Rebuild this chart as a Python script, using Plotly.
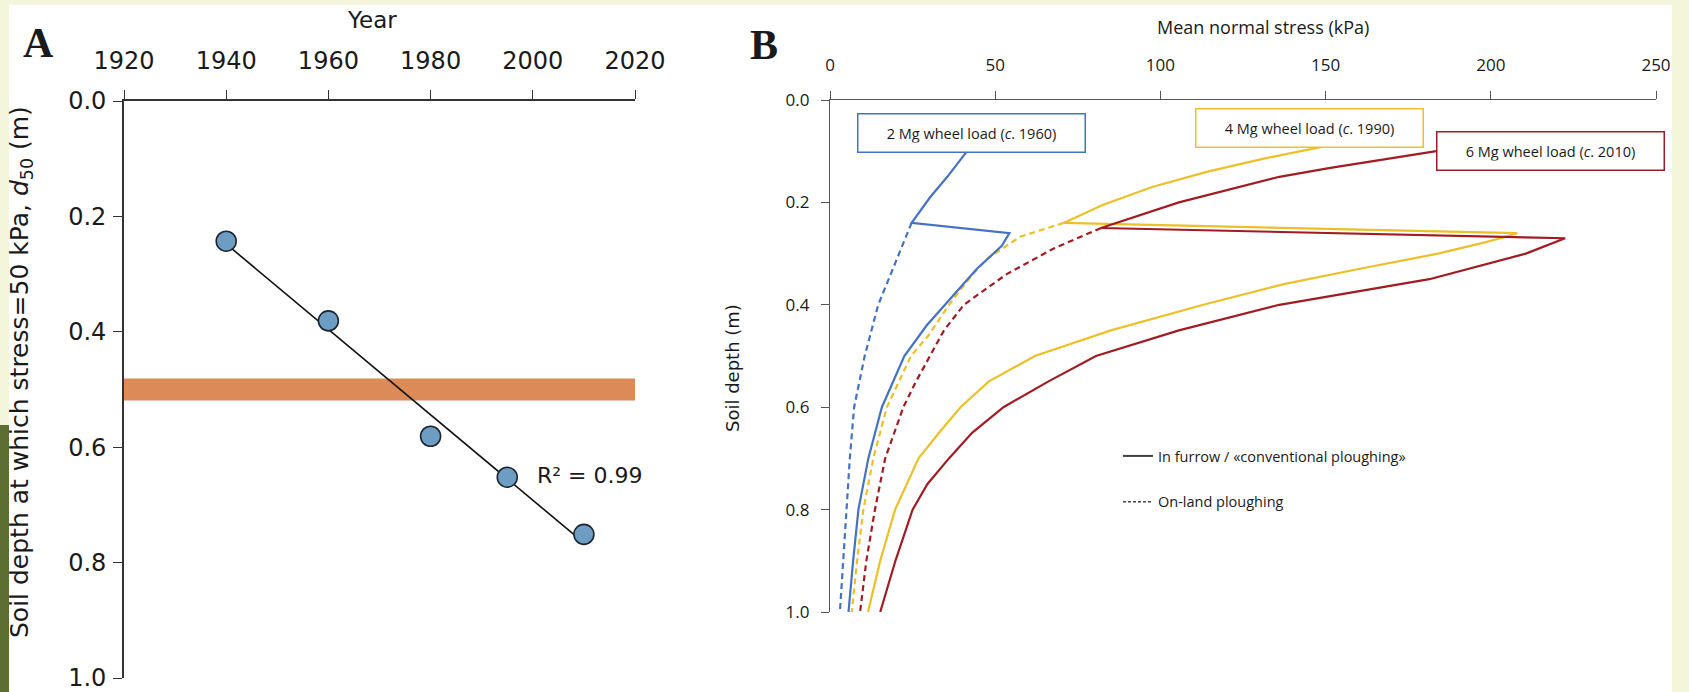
import numpy as np
import plotly.graph_objects as go

W, H = 1689, 692

# ---------------- Panel A data ----------------
years = [1940, 1960, 1980, 1995, 2010]
d50 = [0.243, 0.381, 0.581, 0.652, 0.751]
band_depth = [0.481, 0.519]          # orange reference band
band_years = [1920, 2020]
r2_text = "R² = 0.99"

# ---------------- Panel B data ----------------
# 2 Mg wheel load (c. 1960)
d2_furrow = [0.10, 0.15, 0.19, 0.24, 0.26, 0.285, 0.33, 0.38, 0.44, 0.50, 0.60, 0.70, 0.80, 0.90, 1.00]
s2_furrow = [41.5, 35.5, 30.3, 24.7, 54.3, 52.0, 44.4, 37.4, 29.3, 22.5, 15.7, 11.6, 8.6, 7.0, 5.6]
d2_onland = [0.24, 0.32, 0.40, 0.50, 0.60, 0.70, 0.80, 0.90, 1.00]
s2_onland = [24.7, 19.7, 14.6, 10.5, 7.3, 6.0, 5.0, 4.0, 3.0]
# 4 Mg wheel load (c. 1990)
d4_furrow = [0.09, 0.114, 0.14, 0.17, 0.205, 0.24, 0.26, 0.27, 0.28, 0.30, 0.33, 0.36, 0.40, 0.45, 0.50, 0.55, 0.60, 0.65, 0.70, 0.80, 0.90, 1.00]
s4_furrow = [150, 131.6, 114.3, 97.5, 82.5, 70.7, 208, 203, 197, 184, 160, 137, 113, 85, 62, 48, 39.5, 33, 26.8, 19.7, 15.2, 11.5]
d4_onland = [0.24, 0.267, 0.31, 0.35, 0.40, 0.46, 0.50, 0.60, 0.70, 0.80, 0.90, 1.00]
s4_onland = [70.7, 57.6, 47.5, 42.0, 36.0, 29.8, 24.5, 17.2, 13.1, 10.1, 8.2, 6.6]
# 6 Mg wheel load (c. 2010)
d6_furrow = [0.10, 0.133, 0.15, 0.20, 0.25, 0.27, 0.30, 0.35, 0.40, 0.45, 0.50, 0.55, 0.60, 0.65, 0.70, 0.75, 0.80, 0.90, 1.00]
s6_furrow = [183.5, 151, 136, 105.6, 82, 222.5, 210.6, 181.4, 136, 105.6, 80.5, 66, 52.5, 43, 36, 29.5, 25, 19.8, 15.2]
d6_onland = [0.25, 0.29, 0.34, 0.40, 0.45, 0.50, 0.55, 0.60, 0.70, 0.80, 0.90, 1.00]
s6_onland = [82, 67.7, 53.5, 40.5, 34.5, 30.2, 26.0, 22.2, 16.7, 13.6, 11.0, 9.1]

load_labels = ["2 Mg wheel load (<i>c</i>. 1960)",
               "4 Mg wheel load (<i>c</i>. 1990)",
               "6 Mg wheel load (<i>c</i>. 2010)"]
legend_names = ["In furrow / «conventional ploughing»", "On-land ploughing"]

BLUE = "#4472C4"
GOLD = "#EDBF28"
RED = "#A11C22"
CREAM = "#F4F6DC"
GREEN = "#5D6E33"

# ---------------- helpers ----------------
def px_x(p):
    return p / W

def px_y(p):
    return 1 - p / H

fig = go.Figure()

# Panel A
slope, icpt = np.polyfit(years, d50, 1)
fit_x = [years[0], years[-1]]
fit_y = [slope * v + icpt for v in fit_x]
fig.add_trace(go.Scatter(x=fit_x, y=fit_y, mode="lines", line=dict(color="#111", width=1.6),
                         showlegend=False, xaxis="x", yaxis="y", hoverinfo="skip"))
fig.add_trace(go.Scatter(x=years, y=d50, mode="markers",
                         marker=dict(size=20, color="#6E9DC3", line=dict(color="#1d2630", width=1.6)),
                         showlegend=False, xaxis="x", yaxis="y"))

# Panel B
def add_curve(s, d, color, dash):
    fig.add_trace(go.Scatter(x=s, y=d, mode="lines",
                             line=dict(color=color, width=2.2, dash=dash),
                             showlegend=False, xaxis="x2", yaxis="y2"))

add_curve(s2_onland, d2_onland, BLUE, "6px,4px")
add_curve(s4_onland, d4_onland, GOLD, "6px,4px")
add_curve(s6_onland, d6_onland, RED, "6px,4px")
add_curve(s2_furrow, d2_furrow, BLUE, "solid")
add_curve(s4_furrow, d4_furrow, GOLD, "solid")
add_curve(s6_furrow, d6_furrow, RED, "solid")

# legend entries
fig.add_trace(go.Scatter(x=[None], y=[None], mode="lines", name=legend_names[0],
                         line=dict(color="#404040", width=2), xaxis="x2", yaxis="y2",
                         legendgroup="a"))
fig.add_trace(go.Scatter(x=[None], y=[None], mode="lines", name=legend_names[1],
                         line=dict(color="#404040", width=1.5, dash="3px,2px"), xaxis="x2", yaxis="y2",
                         legendgroup="b"))

axis_common = dict(showgrid=False, zeroline=False, showline=True, ticks="outside",
                   mirror=False, automargin=False, ticklabeloverflow="allow")

fig.update_layout(
    width=W, height=H,
    margin=dict(l=0, r=0, t=0, b=0, autoexpand=False),
    paper_bgcolor=CREAM, plot_bgcolor="white",
    font=dict(family="DejaVu Sans", color="#1a1a1a"),
    xaxis=dict(axis_common, domain=[px_x(124), px_x(635)], range=[1920, 2020], side="top",
               dtick=20, tick0=1920, anchor="y", linecolor="#333", linewidth=1.6,
               tickcolor="#333", ticklen=9, tickwidth=1.4,
               tickfont=dict(family="DejaVu Sans", size=24, color="#1a1a1a"), ticklabelstandoff=12),
    yaxis=dict(axis_common, domain=[px_y(678), px_y(101)], range=[1.0, 0.0], dtick=0.2,
               tickformat=".1f", anchor="x", linecolor="#333", linewidth=1.6,
               tickcolor="#333", ticklen=9, tickwidth=1.4,
               tickfont=dict(family="DejaVu Sans", size=24, color="#1a1a1a"), ticklabelstandoff=2),
    xaxis2=dict(axis_common, domain=[px_x(830), px_x(1656)], range=[0, 250], side="top",
                dtick=50, anchor="y2", linecolor="#555", linewidth=1.4,
                tickcolor="#555", ticklen=8, tickwidth=1.2,
                tickfont=dict(family="Open Sans", size=17, color="#1a1a1a"), ticklabelstandoff=13),
    yaxis2=dict(axis_common, domain=[px_y(612), px_y(100)], range=[1.0, 0.0], dtick=0.2,
                tickformat=".1f", anchor="x2", linecolor="#555", linewidth=1.4,
                tickcolor="#555", ticklen=8, tickwidth=1.2,
                tickfont=dict(family="Open Sans", size=17, color="#1a1a1a"), ticklabelstandoff=8),
    legend=dict(x=px_x(1118), y=px_y(440), xanchor="left", yanchor="top",
                bgcolor="rgba(0,0,0,0)", font=dict(family="Open Sans", size=14.5, color="#1a1a1a"),
                tracegroupgap=24, traceorder="grouped"),
    showlegend=True,
)

# background panels
fig.add_shape(type="rect", xref="paper", yref="paper", x0=px_x(9), x1=px_x(1672), y0=0, y1=px_y(5),
              fillcolor="white", line=dict(width=0), layer="below")
fig.add_shape(type="rect", xref="paper", yref="paper", x0=0, x1=px_x(9), y0=0, y1=px_y(425),
              fillcolor=GREEN, line=dict(width=0), layer="below")
# orange band in panel A
fig.add_shape(type="rect", xref="x", yref="y", x0=band_years[0], x1=band_years[1],
              y0=band_depth[0], y1=band_depth[1], fillcolor="#DC8A57", line=dict(width=0), layer="below")

ann = []
def text(x, y, s, size, family="DejaVu Sans", **kw):
    ann.append(dict(x=px_x(x), y=px_y(y), xref="paper", yref="paper", text=s, showarrow=False,
                    font=dict(size=size, family=family, color=kw.pop("color", "#1a1a1a")),
                    xanchor=kw.pop("xanchor", "center"), yanchor=kw.pop("yanchor", "middle"), **kw))

text(38, 43, "<b>A</b>", 42, "Liberation Serif")
text(764, 45, "<b>B</b>", 42, "Liberation Serif")
text(372, 20, "Year", 23)
text(1263, 27, "Mean normal stress (kPa)", 18, "Open Sans")
text(21, 372, "Soil depth at which stress=50 kPa, <i>d</i><sub>50</sub> (m)", 25, textangle=-90)
text(733, 368, "Soil depth (m)", 18, textangle=-90)
text(590, 475, r2_text, 22)

boxes = [(971, 132.5, load_labels[0], BLUE),
         (1309.5, 128, load_labels[1], GOLD),
         (1550.5, 151, load_labels[2], RED)]
for bx, by, lab, col in boxes:
    text(bx, by, lab, 14.5, "Open Sans", bordercolor=col, borderwidth=1.5, borderpad=9,
         bgcolor="white", width=208)

fig.update_layout(annotations=ann)

fig.write_html("out.html",
               config={"displayModeBar": False},
               post_script="document.body.style.margin='0';document.body.style.padding='0';"
                           "document.body.style.overflow='hidden';"
                           "document.body.style.background='" + CREAM + "';")
